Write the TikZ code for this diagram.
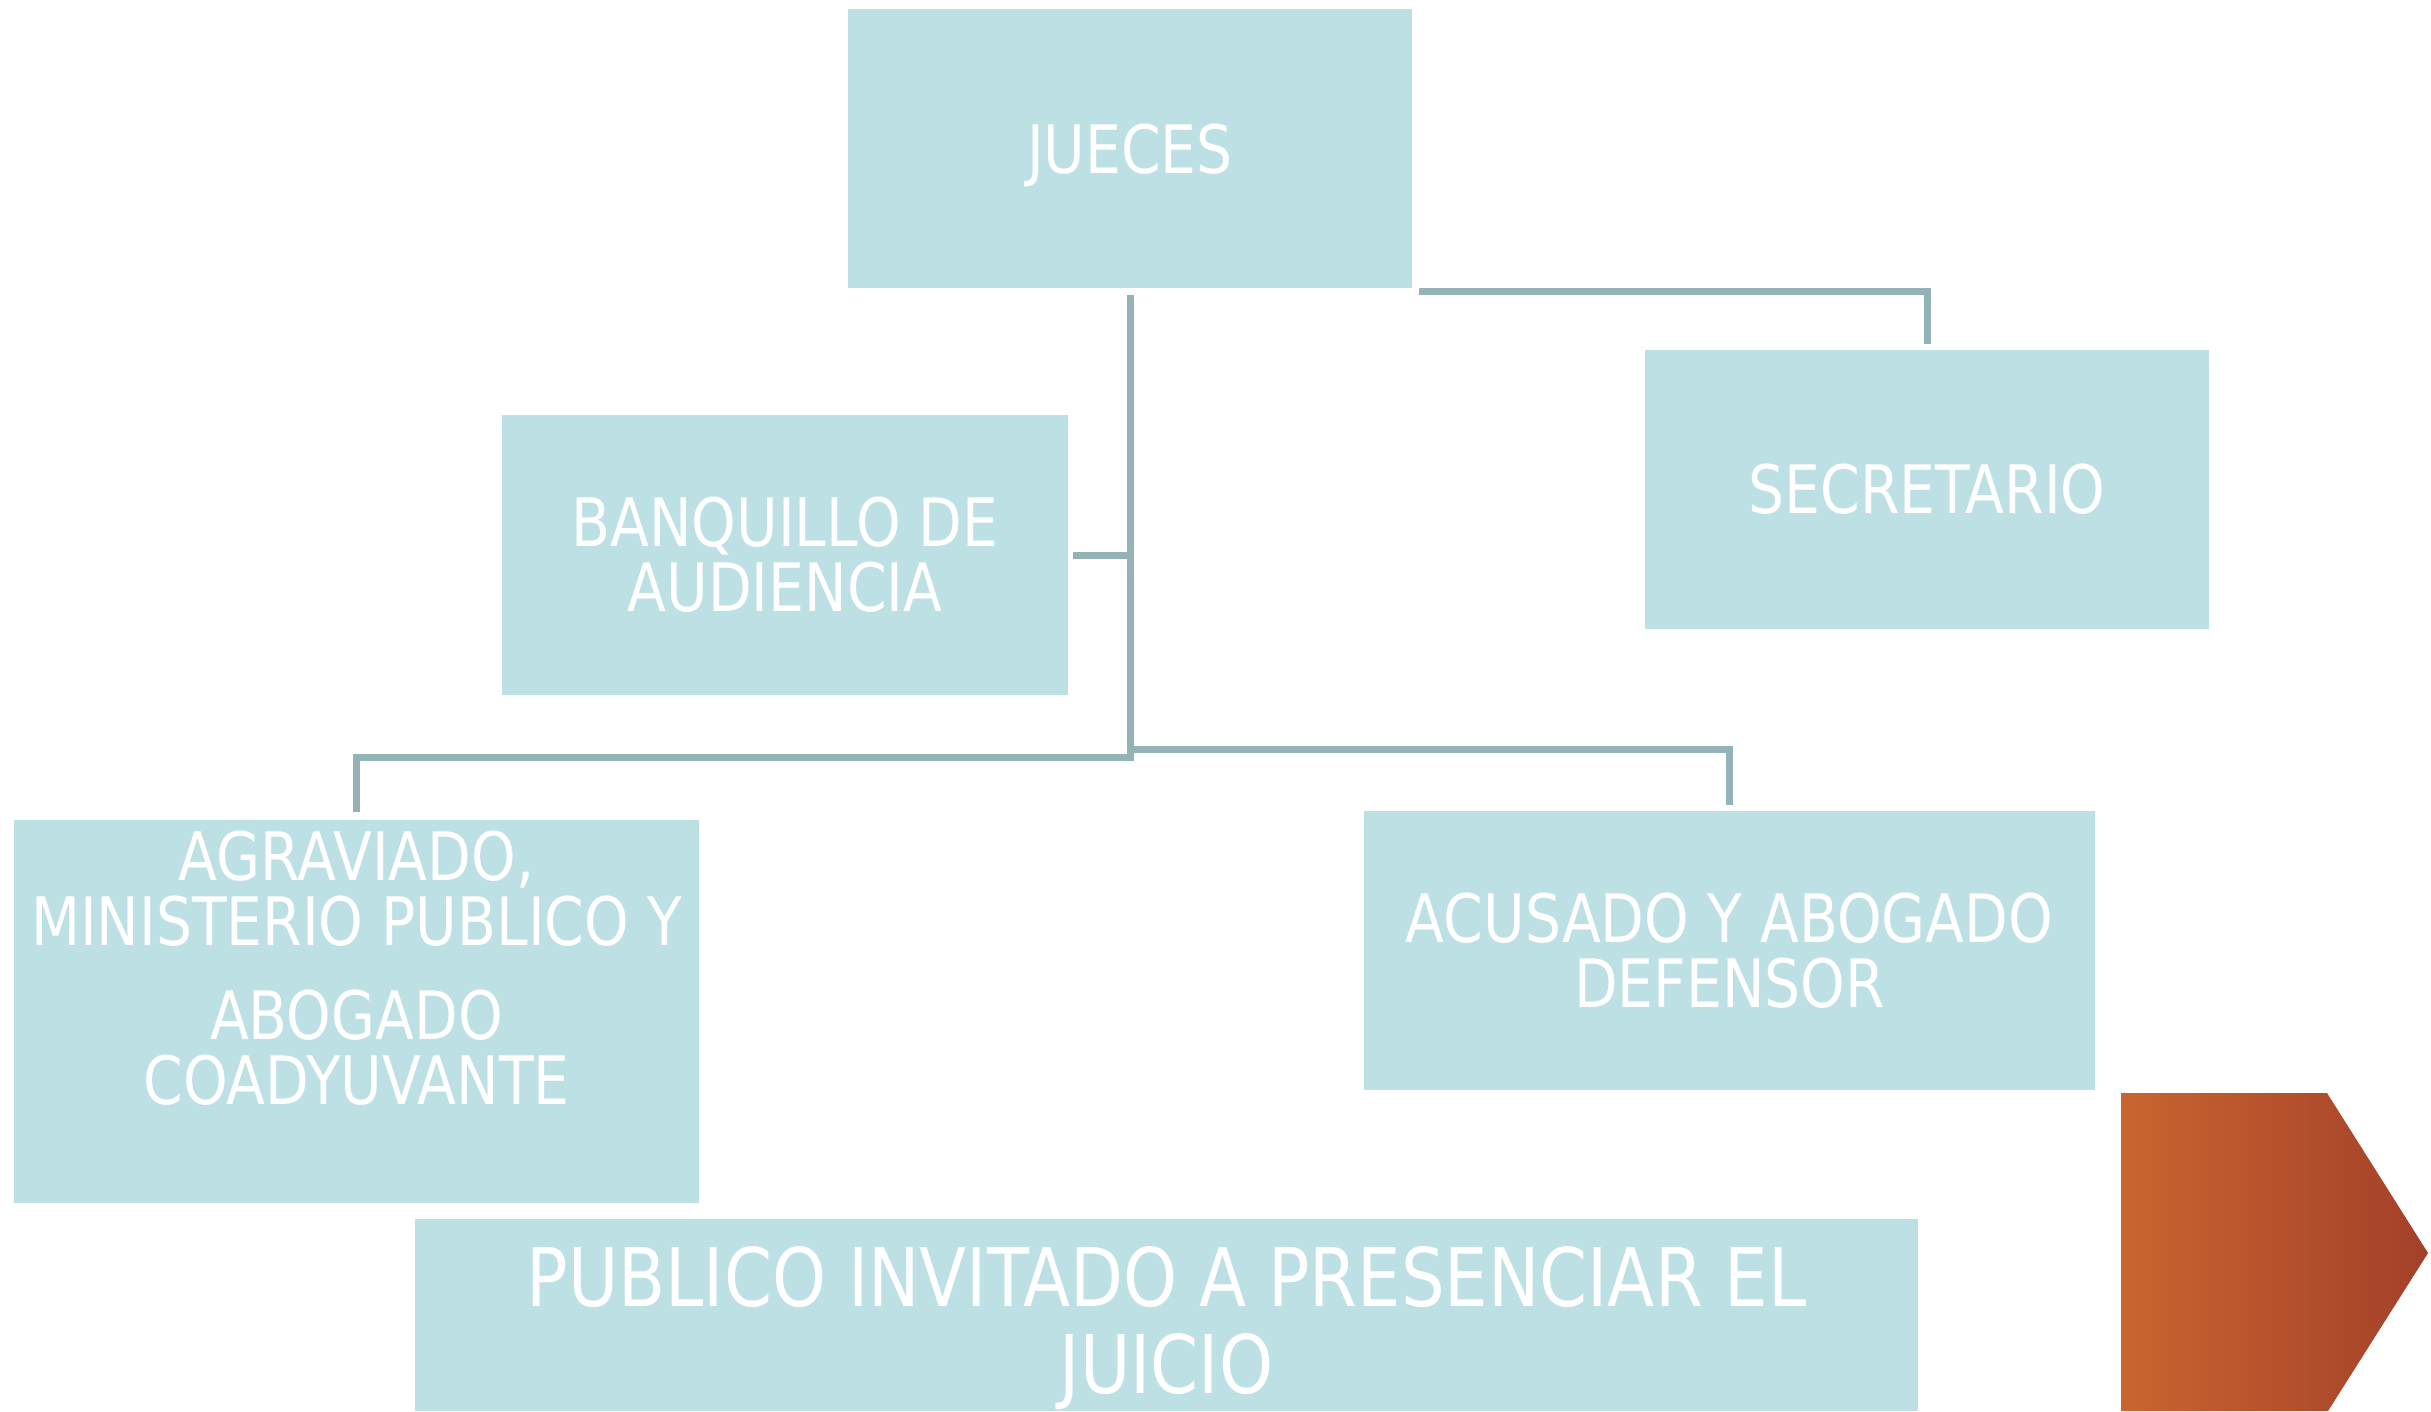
\documentclass[tikz,border=0pt]{standalone}
\usepackage{fontspec}
\setmainfont{DejaVu Sans}[FakeStretch=0.85]
\definecolor{boxfill}{HTML}{BCE0E3}
\definecolor{linecol}{HTML}{93B3B7}
\definecolor{orleft}{HTML}{C9652F}
\definecolor{orright}{HTML}{A3402A}
\tikzset{
  box/.style={rectangle, fill=boxfill, inner sep=0pt, outer sep=0pt, text=white, align=center,
    font=\fontsize{19}{18.5}\selectfont},
  boxtext/.style={inner sep=0pt, outer sep=0pt, text=white, align=center, anchor=north,
    font=\fontsize{19}{18.5}\selectfont},
  bigtext/.style={inner sep=0pt, outer sep=0pt, text=white, align=center, anchor=north,
    font=\fontsize{23}{25}\selectfont},
  conn/.style={draw=linecol, line width=0.07cm}
}
\begin{document}
\begin{tikzpicture}[x=0.01cm,y=-0.01cm]
\useasboundingbox[fill=white] (0,0) rectangle (2431,1411);

\node[box, minimum width=5.64cm, minimum height=2.79cm, text depth=0pt] (jueces) at (1130,148.5) {JUECES};
\node[box, minimum width=5.64cm, minimum height=2.79cm] (sec) at (1927,489.5) {SECRETARIO};
\node[box, minimum width=5.66cm, minimum height=2.80cm] (banq) at (785,555) {BANQUILLO DE\\AUDIENCIA};
\node[box, minimum width=6.85cm, minimum height=3.83cm] (agr) at (356.5,1011.5) {};
\node[boxtext] (agrtext) at (356.5,831) {AGRAVIADO,\\MINISTERIO PUBLICO Y\\[0.29cm]ABOGADO\\COADYUVANTE};
\node[box, minimum width=7.31cm, minimum height=2.79cm] (acu) at (1729.5,950.5) {ACUSADO Y ABOGADO\\DEFENSOR};
\node[box, minimum width=15.03cm, minimum height=1.92cm] (pub) at (1166.5,1315) {};
\node[bigtext] (pubtext) at (1166.5,1246) {PUBLICO INVITADO A PRESENCIAR EL\\JUICIO};

\coordinate (jl) at (1130,757);
\coordinate (jr) at (1130,749);

\draw[conn] ([yshift=-0.07cm]jueces.south) -- (jl) -| ([yshift=0.08cm]agr.north);
\draw[conn] (jr) -| ([yshift=0.06cm]acu.north);
\draw[conn] ([xshift=0.05cm]banq.east) -- (banq.east -| jl);
\draw[conn] ([shift={(0.07cm,-0.03cm)}]jueces.south east) -| ([yshift=0.06cm]sec.north);

\shade[left color=orleft, right color=orright] (2121,1093) -- (2327,1093) -- (2428,1253) -- (2328,1411) -- (2121,1411) -- cycle;
\end{tikzpicture}
\end{document}
